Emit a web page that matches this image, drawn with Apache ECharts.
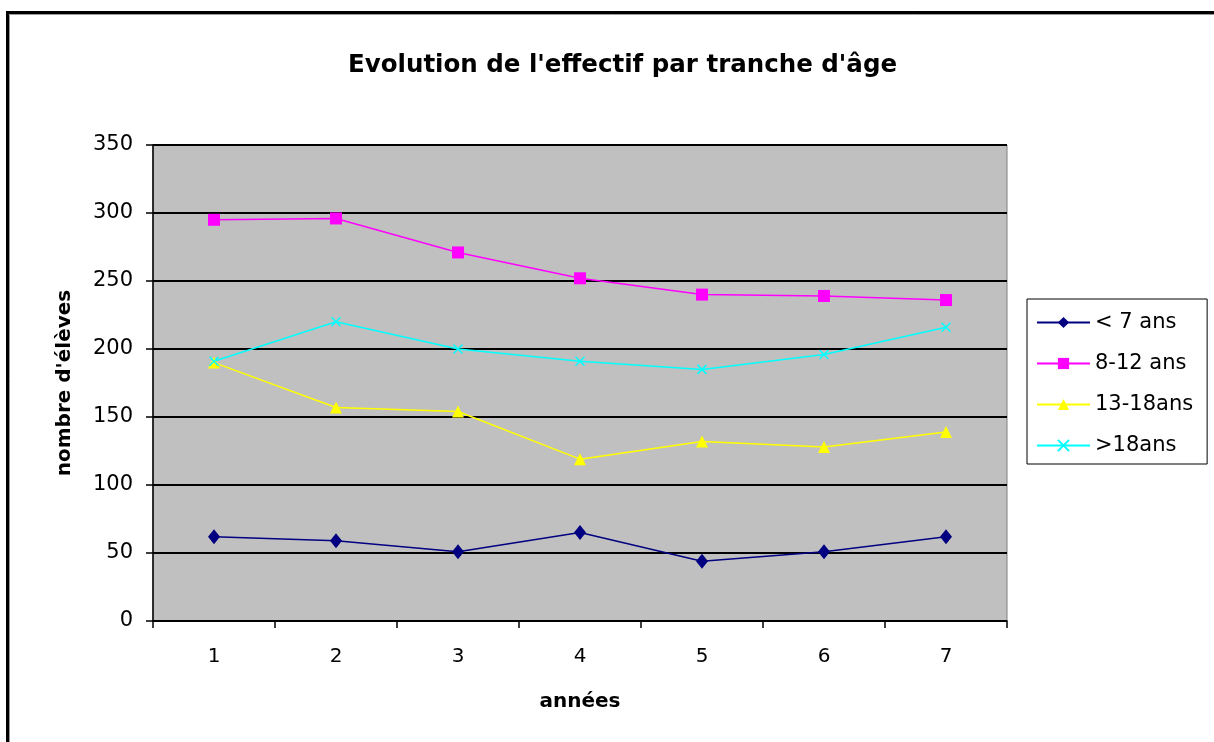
<!DOCTYPE html>
<html>
<head>
<meta charset="utf-8">
<script src="https://cdn.jsdelivr.net/npm/echarts@6/dist/echarts.min.js"></script>
<style>
html,body{margin:0;padding:0;background:#fff;}
#chart{width:1214px;height:742px;}
</style>
</head>
<body>
<div id="chart"></div>
<script>
const categories = ['1', '2', '3', '4', '5', '6', '7'];
const seriesNames = ['< 7 ans', '8-12 ans', '13-18ans', '>18ans'];
const lt7 = [62, 59, 51, 65, 44, 51, 62];
const age8to12 = [295, 296, 271, 252, 240, 239, 236];
const age13to18 = [190, 157, 154, 119, 132, 128, 139];
const gt18 = [191, 220, 200, 191, 185, 196, 216];
const yTicks = [0, 50, 100, 150, 200, 250, 300, 350];

const font = '"DejaVu Sans", Verdana, sans-serif';
const chart = echarts.init(document.getElementById('chart'));

function mkSeries(name, data, color, symbol, size) {
  return {
    name: name, type: 'line', data: data,
    symbol: symbol, symbolSize: size,
    lineStyle: { color: color, width: 1.5 },
    itemStyle: { color: color, borderColor: color, borderWidth: 0 },
    emphasis: { disabled: true },
    animation: false
  };
}

const xSym = 'path://M0,0L10,10M10,0L0,10';
const s4 = mkSeries(seriesNames[3], gt18, '#00ffff', xSym, 9);
s4.itemStyle = { color: 'none', borderColor: '#00ffff', borderWidth: 1.5 };

chart.setOption({
  animation: false,
  backgroundColor: '#ffffff',
  title: {
    text: "Evolution de l'effectif par tranche d'âge",
    left: 343, top: 48,
    textStyle: { fontFamily: font, fontSize: 24.5, fontWeight: 'bold', color: '#000' }
  },
  graphic: [
    { type: 'rect', shape: { x: 7.5, y: 12.5, width: 1400, height: 1000 },
      style: { fill: 'none', stroke: '#000', lineWidth: 3 }, silent: true },
    { type: 'rect', shape: { x: 9.5, y: 14.5, width: 1400, height: 1000 },
      style: { fill: 'none', stroke: '#999', lineWidth: 1 }, silent: true }
  ],
  grid: {
    left: 153, right: 207, top: 145, bottom: 121,
    show: true, backgroundColor: '#c0c0c0', borderColor: '#808080', borderWidth: 1
  },
  legend: {
    orient: 'vertical',
    left: 1027, top: 299,
    padding: [13, 14, 8, 9],
    itemWidth: 53, itemHeight: 14, itemGap: 20,
    borderColor: '#000', borderWidth: 1,
    backgroundColor: '#fff',
    textStyle: { fontFamily: font, fontSize: 21, color: '#000', lineHeight: 20 },
    data: seriesNames
  },
  xAxis: {
    type: 'category', data: categories, boundaryGap: true,
    name: 'années', nameLocation: 'middle', nameGap: 71,
    nameTextStyle: { fontFamily: font, fontSize: 20, fontWeight: 'bold', color: '#000' },
    axisLine: { lineStyle: { color: '#000', width: 1.5 } },
    axisTick: { show: true, interval: 0, length: 7, lineStyle: { color: '#000', width: 1.5 } },
    axisLabel: { fontFamily: font, fontSize: 20, color: '#000', margin: 26 },
    splitLine: { show: false }
  },
  yAxis: {
    type: 'value', min: 0, max: 350, interval: 50,
    name: "nombre d'élèves", nameLocation: 'middle', nameGap: 78,
    nameTextStyle: { fontFamily: font, fontSize: 20, fontWeight: 'bold', color: '#000' },
    axisLine: { show: true, lineStyle: { color: '#000', width: 1.5 } },
    axisTick: { show: true, length: 7, lineStyle: { color: '#000', width: 1.5 } },
    axisLabel: { fontFamily: font, fontSize: 21, color: '#000', margin: 20,
      formatter: function (v) { return yTicks.indexOf(v) >= 0 ? String(v) : ''; } },
    splitLine: { show: true, lineStyle: { color: '#000', width: 2 } }
  },
  series: [
    mkSeries(seriesNames[0], lt7, '#000080', 'diamond', [12, 15]),
    mkSeries(seriesNames[1], age8to12, '#ff00ff', 'rect', 12),
    mkSeries(seriesNames[2], age13to18, '#ffff00', 'triangle', 12),
    s4
  ]
});
</script>
</body>
</html>
